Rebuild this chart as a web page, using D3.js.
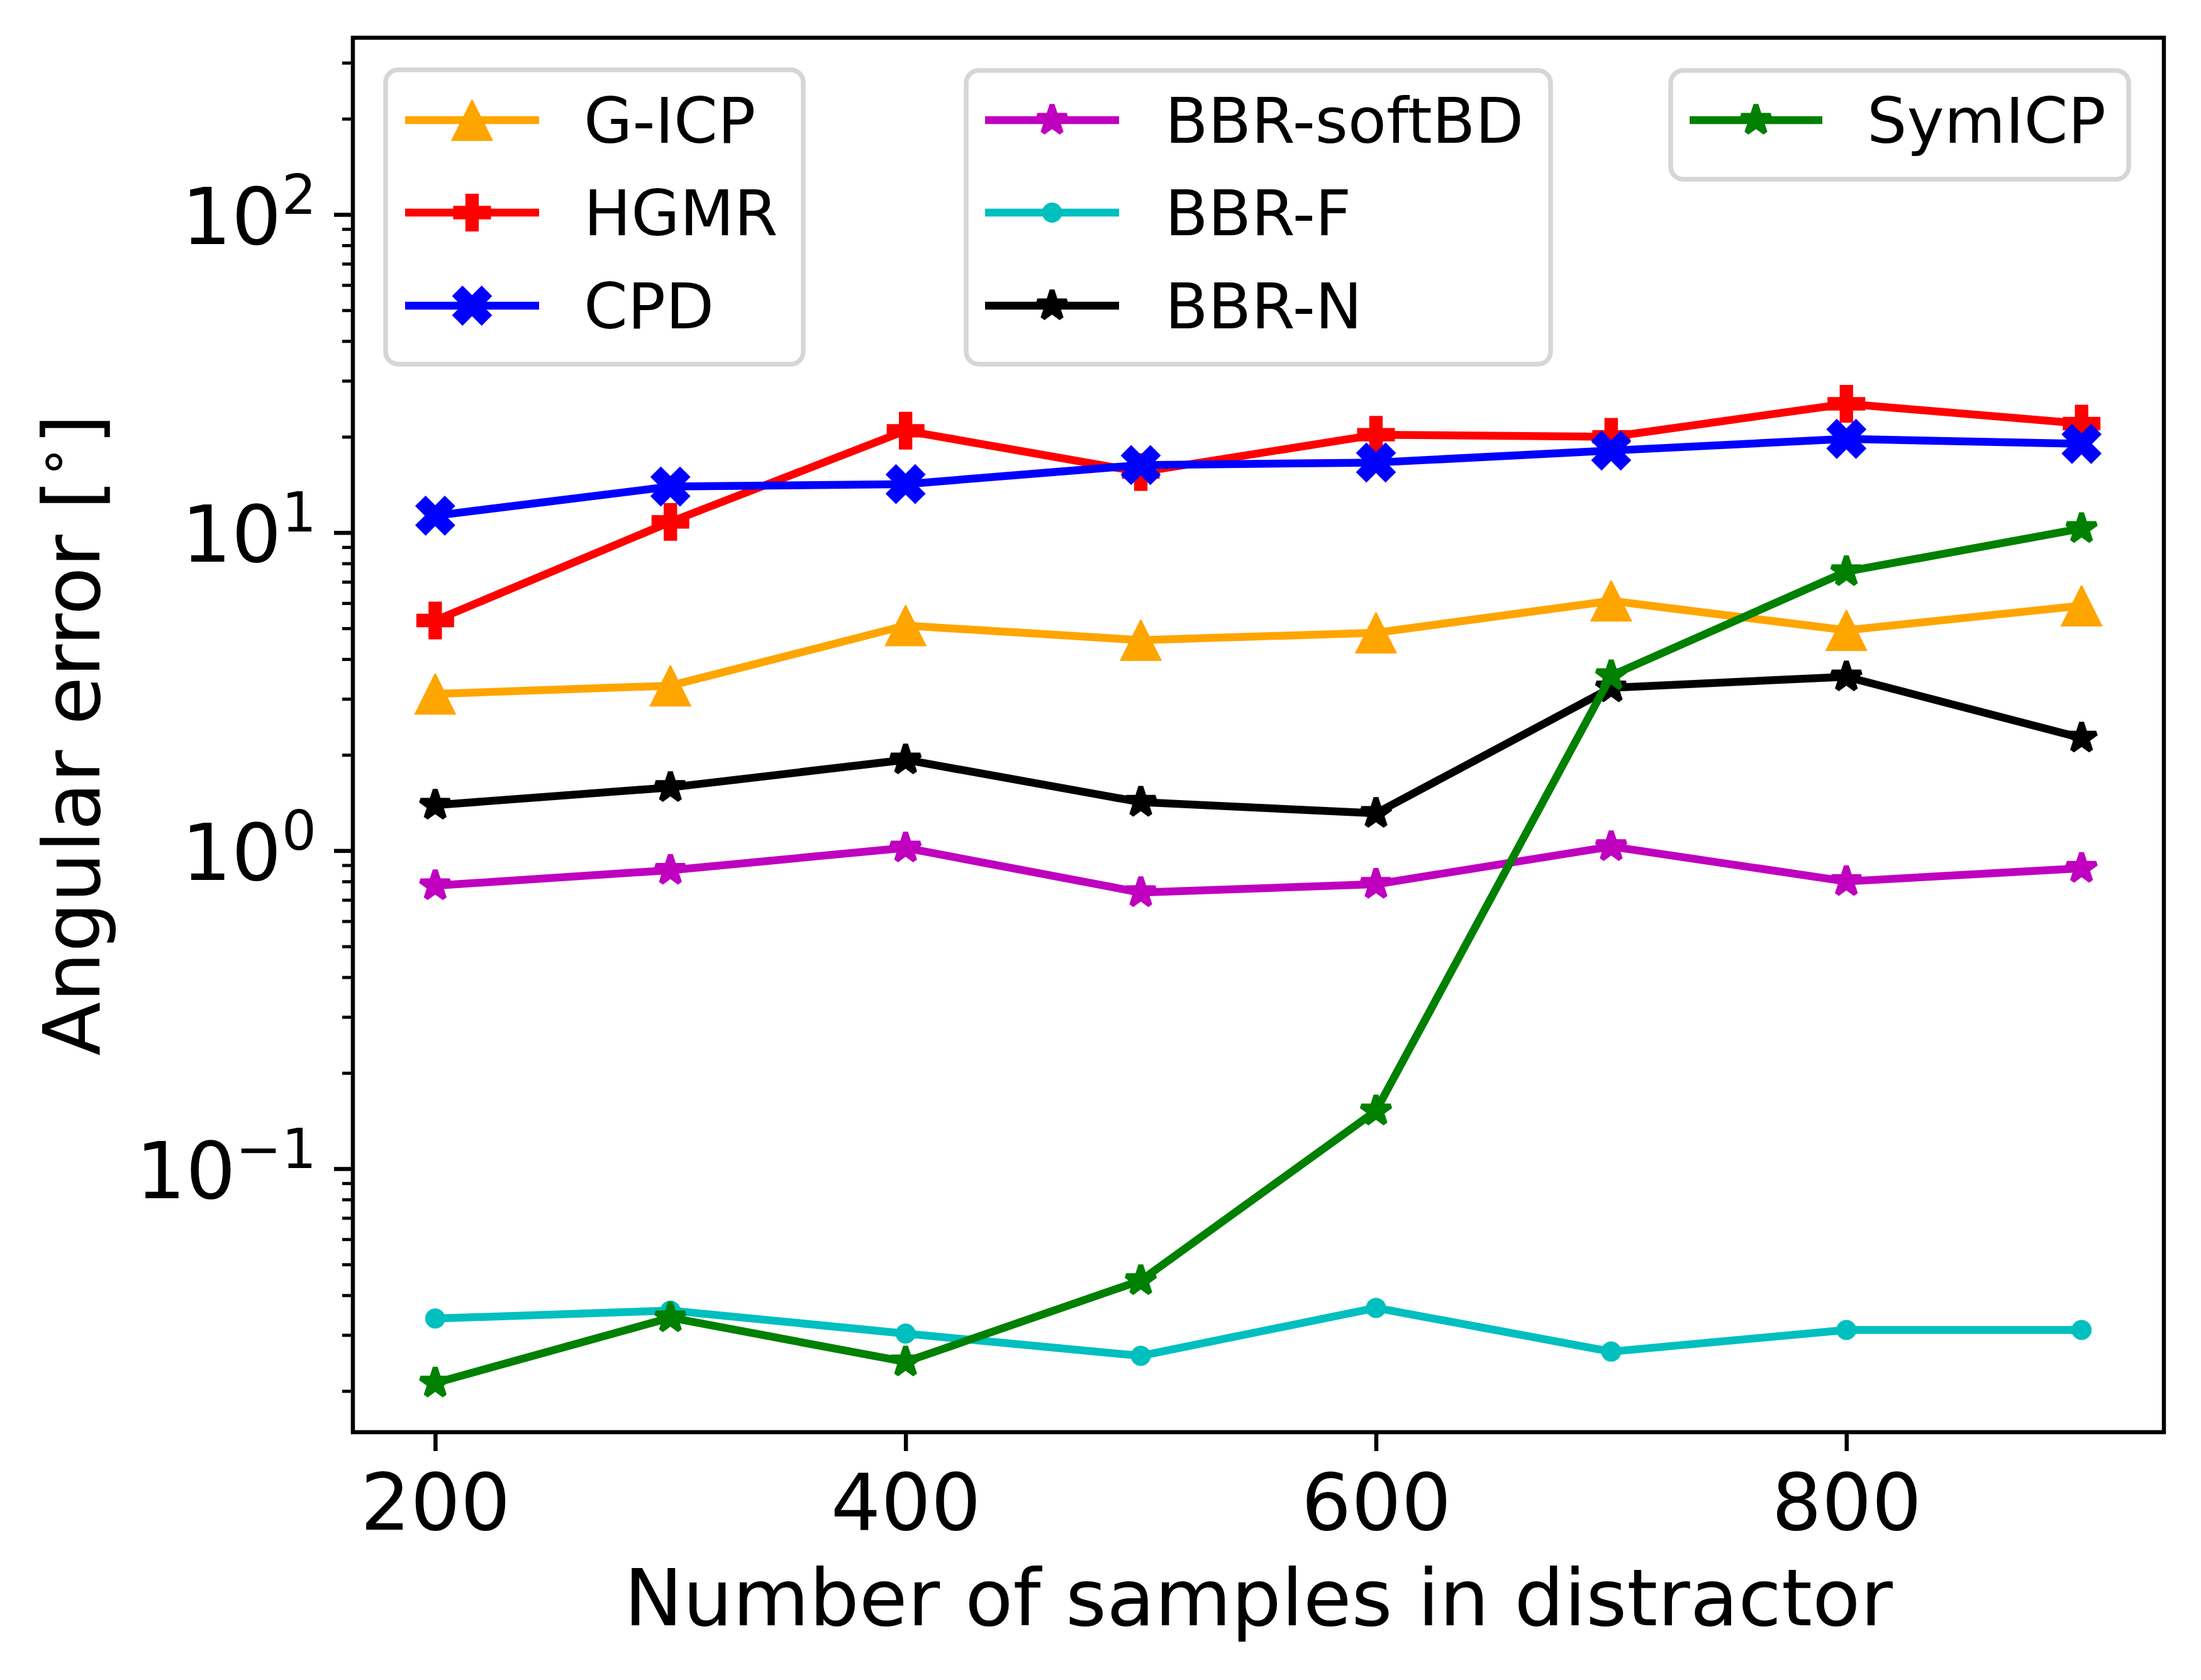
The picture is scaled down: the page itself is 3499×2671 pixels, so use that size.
<!DOCTYPE html>
<html><head><meta charset="utf-8">
<script src="https://cdn.jsdelivr.net/npm/d3@7"></script>
<style>body{margin:0;background:#fff} text{font-family:"DejaVu Sans",sans-serif;fill:#000}</style>
</head><body>
<svg id="c" width="3499" height="2671" xmlns="http://www.w3.org/2000/svg"></svg>
<script>
// ---- data ----
const xValues = [200, 300, 400, 500, 600, 700, 800, 900];
const gicp      = [3.11, 3.30, 5.10, 4.59, 4.84, 6.10, 4.93, 5.89];
const hgmr      = [5.29, 10.8, 20.9, 15.5, 20.3, 20.0, 25.4, 22.0];
const cpd       = [11.3, 13.95, 14.2, 16.3, 16.6, 18.1, 19.7, 19.0];
const bbrSoftBD = [0.776, 0.868, 1.02, 0.738, 0.784, 1.03, 0.80, 0.880];
const bbrF      = [0.0338, 0.0358, 0.0303, 0.0258, 0.0365, 0.0266, 0.0311, 0.0311];
const bbrN      = [1.39, 1.58, 1.93, 1.42, 1.31, 3.25, 3.52, 2.26];
const symICP    = [0.0212, 0.0340, 0.0247, 0.0445, 0.152, 3.55, 7.54, 10.3];
const seriesNames = ["G-ICP", "HGMR", "CPD", "BBR-softBD", "BBR-F", "BBR-N", "SymICP"];
const xTickValues = [200, 400, 600, 800];
const yTickExponents = [-1, 0, 1, 2];
const xLabel = "Number of samples in distractor";
const yLabel = "Angular error [";

// ---- styling ----
const seriesValues = [gicp, hgmr, cpd, bbrSoftBD, bbrF, bbrN, symICP];
const colors = ["#ffa500", "#ff0000", "#0000ff", "#bf00bf", "#00bfbf", "#000000", "#008000"];
const markers = ["tri", "plus", "x", "star", "dot", "star", "star"];
const legendGroups = [
  {box: [613, 111, 664, 468], handle: [644, 857], text: 928, rows: [0, 1, 2]},
  {box: [1536, 112, 929, 467], handle: [1566, 1779], text: 1852, rows: [3, 4, 5]},
  {box: [2656, 112, 728, 173], handle: [2686, 2897], text: 2968, rows: [6]}
];
const legendRowY = [191, 338, 486];

const L = 561, R = 3440, T = 60, B = 2277;
const svg = d3.select("#c");
svg.append("rect").attr("width", 3499).attr("height", 2671).attr("fill", "#fff");

const x = d3.scaleLinear().domain([165, 935]).range([L, R]);
const y = d3.scaleLog().domain([Math.pow(10, -1.8285), Math.pow(10, 2.5557)]).range([B, T]);

function markerPath(type) {
  if (type === "tri") {
    const h = 32;
    return `M0,${-h}L${h},${h}L${-h},${h}Z`;
  }
  if (type === "plus") {
    const s = 58 / 6;
    const p = [[-1,-3],[1,-3],[1,-1],[3,-1],[3,1],[1,1],[1,3],[-1,3],[-1,1],[-3,1],[-3,-1],[-1,-1]];
    return "M" + p.map(d => [d[0]*s, d[1]*s].join(",")).join("L") + "Z";
  }
  if (type === "x") {
    const s = 61 / 4;
    const p = [[-1,-2],[0,-1],[1,-2],[2,-1],[1,0],[2,1],[1,2],[0,1],[-1,2],[-2,1],[-1,0],[-2,-1]];
    return "M" + p.map(d => [d[0]*s, d[1]*s].join(",")).join("L") + "Z";
  }
  if (type === "star") {
    const Ro = 24.5, Ri = 24.5 * 0.381966;
    const pts = [];
    for (let i = 0; i < 10; i++) {
      const r = i % 2 === 0 ? Ro : Ri;
      const a = -Math.PI / 2 + i * Math.PI / 5;
      pts.push([r * Math.cos(a), r * Math.sin(a)]);
    }
    return "M" + pts.map(d => d.join(",")).join("L") + "Z";
  }
  // dot
  const r = 15;
  return `M${-r},0A${r},${r} 0 1,0 ${r},0A${r},${r} 0 1,0 ${-r},0Z`;
}
function markerStroke(type) { return type === "star" ? 8 : 2; }

function drawMarker(sel, type, color) {
  sel.attr("d", markerPath(type)).attr("fill", color).attr("stroke", color)
    .attr("stroke-width", markerStroke(type)).attr("stroke-linejoin", "miter").attr("stroke-miterlimit", 2);
}

// ---- axes ticks ----
const xAxis = d3.axisBottom(x).tickValues(xTickValues).tickSize(30).tickFormat(d3.format("d"));
const gx = svg.append("g").attr("transform", `translate(0,${B})`).call(xAxis);
gx.select(".domain").remove();
gx.selectAll(".tick line").attr("stroke", "#000").attr("stroke-width", 6.5);
gx.selectAll(".tick text").attr("y", 155).attr("dy", null)
  .style("font-size", "125px").style("font-family", "DejaVu Sans").attr("fill", "#000");

const [dmin, dmax] = y.domain();
const minorTicks = [];
for (let e = -2; e <= 2; e++) for (let m = 2; m <= 9; m++) {
  const v = m * Math.pow(10, e);
  if (v >= dmin && v <= dmax) minorTicks.push(v);
}
const yMinor = d3.axisLeft(y).tickValues(minorTicks).tickSize(17).tickFormat("");
const gym = svg.append("g").attr("transform", `translate(${L},0)`).call(yMinor);
gym.select(".domain").remove();
gym.selectAll(".tick line").attr("stroke", "#000").attr("stroke-width", 5);

const yMajor = d3.axisLeft(y).tickValues(yTickExponents.map(e => Math.pow(10, e))).tickSize(30).tickFormat("");
const gy = svg.append("g").attr("transform", `translate(${L},0)`).call(yMajor);
gy.select(".domain").remove();
gy.selectAll(".tick line").attr("stroke", "#000").attr("stroke-width", 6.5);
gy.selectAll(".tick").each(function(d, i) {
  const e = yTickExponents[i];
  const t = d3.select(this).append("text").attr("x", -58).attr("y", 46)
    .attr("text-anchor", "end").style("font-size", "125px").style("font-family", "DejaVu Sans").attr("fill", "#000");
  t.append("tspan").text("10");
  t.append("tspan").attr("dy", -48).style("font-size", "87px").text(e < 0 ? "\u2212" + Math.abs(e) : String(e));
});

// ---- series ----
const line = d3.line().x((d, i) => x(xValues[i])).y(d => y(d));
seriesValues.forEach((vals, si) => {
  const g = svg.append("g");
  g.append("path").attr("d", line(vals)).attr("fill", "none").attr("stroke", colors[si])
    .attr("stroke-width", 12.5).attr("stroke-linejoin", "round").attr("stroke-linecap", "square");
  g.selectAll("path.m").data(vals).enter().append("path").attr("class", "m")
    .call(drawMarker, markers[si], colors[si])
    .attr("transform", (d, i) => `translate(${x(xValues[i])},${y(d)})`);
});

// ---- frame ----
svg.append("rect").attr("x", L).attr("y", T).attr("width", R - L).attr("height", B - T)
  .attr("fill", "none").attr("stroke", "#000").attr("stroke-width", 6.5);

// ---- legends ----
legendGroups.forEach(lg => {
  const g = svg.append("g");
  g.append("rect").attr("x", lg.box[0]).attr("y", lg.box[1]).attr("width", lg.box[2]).attr("height", lg.box[3])
    .attr("rx", 20).attr("ry", 20).attr("fill", "#fff").attr("fill-opacity", 0.8)
    .attr("stroke", "#d6d6d6").attr("stroke-width", 7.5);
  lg.rows.forEach((si, ri) => {
    const yy = legendRowY[ri];
    g.append("line").attr("x1", lg.handle[0]).attr("x2", lg.handle[1]).attr("y1", yy).attr("y2", yy)
      .attr("stroke", colors[si]).attr("stroke-width", 12.5);
    g.append("path").call(drawMarker, markers[si], colors[si])
      .attr("transform", `translate(${(lg.handle[0] + lg.handle[1]) / 2},${yy})`);
    g.append("text").attr("x", lg.text).attr("y", yy + 36).style("font-size", "100px").text(seriesNames[si]);
  });
});

// ---- axis labels ----
svg.append("text").attr("x", (L + R) / 2).attr("y", 2584).attr("text-anchor", "middle")
  .style("font-size", "125px").text(xLabel);
const yl = svg.append("text").attr("transform", `translate(158,${(T + B) / 2}) rotate(-90)`)
  .attr("text-anchor", "middle").style("font-size", "125px");
yl.append("tspan").text(yLabel);
yl.append("tspan").attr("dy", -45).style("font-size", "87px").text("\u2218");
yl.append("tspan").attr("dy", 45).text("]");
</script>
</body></html>
